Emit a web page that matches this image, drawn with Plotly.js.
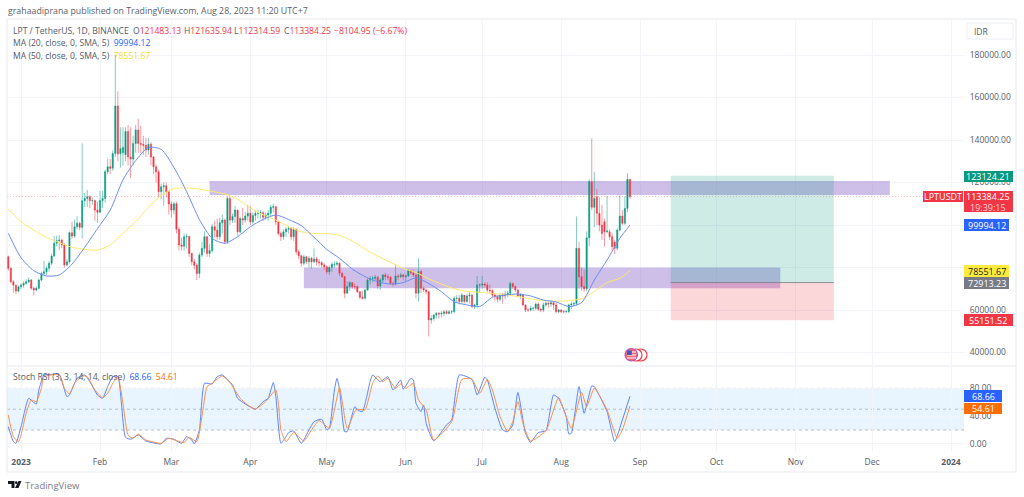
<!DOCTYPE html>
<html><head><meta charset="utf-8">
<script src="https://cdn.plot.ly/plotly-3.0.1.min.js"></script>
<style>html,body{margin:0;padding:0;background:#fff}#c{width:1024px;height:497px}</style>
</head><body><div id="c"></div>
<script>
// Daily OHLC, in thousands of IDR-scale units, starting 2022-12-27
const firstCandleDay = -5; // days from 2023-01-01
const openK = [
85.1,79.6,73.3,71.7,68.9,
70.9,71.7,72.5,73.3,74.1,70.2,69.4,70.2,74.1,77.2,78,79.6,82,85.4,91.4,92.6,92.9,90.6,81.2,82.7,96.4,94.8,99.2,100.8,98.9,111.4,112.5,113.3,111.4,111.5,107,
106,111.5,112.5,125,127.4,126.7,133.7,156,133.5,134,133,144,132,131,138.4,144.7,138.4,138,137.5,135.3,138,132,127.4,125,115.7,118,118.5,115.7,
109.9,107,110,98,90.6,90,94.5,94.6,86.6,82.7,81,77.2,85.9,89,94.5,86.6,88,99.2,97.5,94.5,101,102.3,92.1,112.5,102.3,104,107,96.8,103,102.3,104.2,
105.5,101.5,104.5,105.5,105.5,105.8,103.6,104.7,105.5,108.3,108.6,101.5,96,94.5,96.8,98,98.4,94.5,98,87.4,85.5,82,85,82.7,84.3,82.7,84,82.7,82.2,81.2,
80.3,78,80,81.5,81.5,82,77.3,75.7,67.9,71,72.9,71,71,68.6,66,65.5,69.4,74.1,74.9,74.9,75.4,71.3,74.1,76.5,75.7,75.4,72.5,72.2,76,75.7,76.5,
75.7,76,78.5,77.5,76.5,67.9,78.1,70.2,69.4,68.6,55.3,56,57.6,58.4,58.1,58.4,59.2,58.4,59.2,59.2,65.5,65.5,64,67,64,66.6,67,61.6,62.4,71.8,
71.8,72.2,71.8,69.4,69.1,67,66.3,65,67,66.6,67.5,67.9,72.5,71,69.4,66.6,67,62.4,60,60,60.8,60.8,62.8,60.3,60,62.4,63.2,62.8,63.4,62.4,59.2,
60,59.2,59.2,59.3,62.4,62.8,63,89,75.6,71,70,94,120.4,108.3,113.3,105.5,100,101.5,96.8,96.8,94.5,92,89,97.6,104.2,100.8,107.8,121.483];
const highK = [
85.6,80,74,72,71.5,
72.5,73.5,74.5,75.2,74.6,71,71.2,74.8,78,83.2,80.5,83,86.5,94.8,95,95.2,93.5,91.5,84,97,101.5,102.5,104.2,101.5,138.4,115,116.5,114,113,112,111,
116,116,126,131,131,135,180,163,146,146,146,147,146,142,147,150,146.6,142,141,141,139,132.5,128.5,126,119.5,120,120,116,
111,111,111,99,94,96,96,95,87,84,82,87,92,97,95,91,100.5,102,103,103.5,105,103,113.5,113,105.5,109,107,104,108,106,109.5,
109,106,107,107,107,106.5,106,107,109.5,110,109,102,97,98,99,99.5,99,99,98.5,88.5,86,86,85.5,85.5,85,89,85,84,83,82,
81,81,82.5,83,83,82.5,78,76,73.5,73.5,72.5,72.5,71.5,69,69,70,75,76,76,76.5,76,75,77,77.5,77,76,73.5,81.5,77,77.5,77,
77,79.5,79,79,77.5,84.3,79,71,70,69,57.5,58,59,59,59.5,60,60,60,60,66.5,67,67,68,66.5,67.5,68.5,67.5,63,76,72.5,
76,73,73,72,70,68,67,68,68,69,69,73.5,73,71.5,70,68,67.5,62.5,61,62,61.5,63.5,63.5,61,63.5,64,64,64.5,64,63.5,60.5,
60.5,60,60,63,64,64,104,92,80,79,97,121.5,140.8,125,117,113,109.5,103,113.6,98,96,93,98.5,114,107,113.5,124.3,121.636];
const lowK = [
78.5,72.5,68.1,67.5,68.3,
69.8,70.5,71.8,72.8,69.5,66.7,68.8,69.8,73.5,76,76.5,78,81,85,90,88.2,89,80,80.5,82,93.5,94,98,97.5,93.7,108.5,108.5,108,109.5,102,101,
107,108,110.5,124,124,125.5,132,130,127,128,130,128,122,128,134,134,134,133,132,133,128,124,120,113,112,109,113,105,
103.5,105,96,88,88,88,89,85,81,79,74.1,75,85,87,85,85,87,94,93,93,96,91,91,100,101,101,95,96,100,101,102,
100,100.5,102,103,103,102,102.5,102,104,106,100,95,92.5,93,94.5,96,93,92.5,86,84,80.5,81,81.5,80,79.5,82,81,80.5,80,79,
77,76.5,78,80,80.5,76,75,65.5,69,69,70,69.5,68,65,65,65,69,72,73,74,70,69.5,73,74,74,72,71,71.5,74,75,74,
73.5,75.5,76.5,75.5,65.5,64,68,68.5,67.5,47.5,53.5,55,56,56,56.5,57,58,58,58,58.5,63.5,62.5,63,63,63.5,63,61,60.5,61,68,
70,70.5,68.5,68,66,64.5,63.5,64,63,65,66,66.5,70,68.5,66,65,62,59,59,59.5,59.5,60,59.5,59,59,61.5,61,61.5,60,58.5,58.5,
58.5,58.5,58.5,58.5,60.5,61.5,62,70,69,68.5,69,90,107,99,100,97,93,89.8,96,93,88,86.3,88,97,99.8,100,106,112.315];
const closeK = [
79.6,73.3,71.7,68.9,70.9,
71.7,72.5,73.3,74.1,70.2,69.4,70.2,74.1,77.2,78,79.6,82,85.4,91.4,92.6,92.9,90.6,81.2,82.7,96.4,94.8,99.2,100.8,98.9,111.4,112.5,113.3,111.4,111.5,107,106,
111.5,112.5,125,127.4,126.7,133.7,156,133.5,136,136.5,144,132,131,138.4,144.7,138.4,138,137.5,135.3,138,132,127.4,125,115.7,118,118.5,115.7,109.9,
107,110,98,90.6,90,94.5,94.6,86.6,82.7,81,77.2,85.9,89,94.5,86.6,88,99.2,97.5,94.5,101,102.3,92.1,112.5,102.3,104,107,96.8,103,102.3,104.2,105.5,
101.5,104.5,105.5,105.5,105.8,103.6,104.7,105.5,108.3,108.6,101.5,96,94.5,96.8,98,98.4,94.5,98,87.4,85.5,82,85,82.7,84.3,82.7,84,82.7,82.2,81.2,80.3,
78,80,81.5,81.5,82,77.3,75.7,67.9,71,72.9,71,71,68.6,66,65.5,69.4,74.1,74.9,74.9,75.4,71.3,74.1,76.5,75.7,75.4,72.5,72.2,76,75.7,76.5,75.7,
76,78.5,77.5,76.5,67.9,78.1,70.2,69.4,68.6,55.3,56,57.6,58.4,58.1,58.4,59.2,58.4,59.2,59.2,65.5,65.5,64,67,64,66.6,67,61.6,62.4,71.8,71.8,
72.2,71.8,69.4,69.1,67,66.3,65,67,66.6,67.5,67.9,72.5,71,69.4,66.6,67,62.4,60,60,60.8,60.8,62.8,60.3,60,62.4,63.2,62.8,63.4,62.4,59.2,60,
59.2,59.2,59.3,62.4,62.8,63,89,75.6,71,70,94,120.4,108.3,112.5,105.5,100,96,96.8,97.2,94.5,89.8,89,97.6,104.2,100.8,107.8,121.483,113.384];

// Moving averages read at 5-day steps
const maDates = ['2022-12-27','2023-01-01','2023-01-06','2023-01-11','2023-01-16','2023-01-21','2023-01-26','2023-01-31','2023-02-05','2023-02-10','2023-02-15','2023-02-20','2023-02-25','2023-03-02','2023-03-07','2023-03-12','2023-03-17','2023-03-22','2023-03-27','2023-04-01','2023-04-06','2023-04-11','2023-04-16','2023-04-21','2023-04-26','2023-05-01','2023-05-06','2023-05-11','2023-05-16','2023-05-21','2023-05-26','2023-05-31','2023-06-05','2023-06-10','2023-06-15','2023-06-20','2023-06-25','2023-06-30','2023-07-05','2023-07-10','2023-07-15','2023-07-20','2023-07-25','2023-07-30','2023-08-04','2023-08-09','2023-08-14','2023-08-19','2023-08-24','2023-08-28'];
const ma20K = [96.1,84.6,78.5,76,76.5,81.6,89.5,98.3,107,121.2,130.3,136.5,135.6,127.1,115.7,102.6,93.7,91.4,94.5,99.2,102.6,104.7,102.6,99.7,94.2,88.5,84.3,79.3,75.7,73.3,72.2,72.9,75.1,72.5,68.6,63.9,62.4,61.6,66,67.1,67.5,66.6,64.7,63.8,61.6,63.5,74.1,83.5,93.7,99.994];
const ma50K = [107.5,101.6,97.6,94.2,91.7,89.5,88.5,88.2,90.6,96.1,101.6,108.3,113.9,117.1,117.4,116.9,115.8,114.6,112.1,108,104.8,102.3,99.2,96.8,96,96,95.1,92.5,88.6,85.4,82.4,79.6,77.6,74.7,72.2,70,68.8,68.3,67.8,67.2,66.3,65.2,64.4,64.2,64.4,65.3,68.6,72.9,74.9,78.552];

// Stoch RSI vertices: day offsets from 2023-01-01 and the values there
const stochKDays = [-5,-3,-2,0,3,5,6,7,9,11,15,18,19,22,25,27,30,32,34,36,38,41,43,46,49,55,57,60,63,65,67,68,70,72,75,77,79,83,85,88,92,95,97,99,100,102,104,105,107,110,113,115,118,120,121,123,124,125,127,128,131,132,134,137,138,141,144,146,149,150,153,154,155,157,158,159,162,167,169,172,177,179,182,183,186,189,191,193,195,198,200,203,206,209,211,214,215,216,219,221,224,225,230,233,236,239];
const stochK = [24.9,3.3,0.9,24.9,65.7,59.5,57.5,77.7,99.3,100,100,68.1,70.5,94.5,99.3,89.7,70.5,65.7,82.5,96.9,96.9,9.5,6.7,12.9,4.3,0,8.1,6.7,0.9,10.5,5.7,0,20.1,87.3,86.3,96.9,99.3,84.9,65.7,57.5,49.9,60.9,65.7,88.3,68.1,0.9,10.5,16.3,18.7,0.9,20.1,32.1,35.5,20.1,22.5,77.7,94.5,78.7,17.7,17.7,53.7,48.9,46.5,89.7,99.3,89.7,96.9,77.7,92.1,78.7,94.5,92.1,58.5,46.5,56.1,29.7,4.3,27.3,34.5,99.3,93,70.5,96,92.1,51.3,20.1,17.7,27.3,74.3,15.3,2.3,16.3,19.1,70.5,65.7,39.3,14.3,15.3,82.5,44.1,83.5,82.5,46.5,3.3,34.5,68.66];
const stochDDays = [-5,-3,-1,0,2,4,6,8,9,15,17,19,21,24,26,29,32,34,36,38,40,42,44,46,49,55,58,61,64,66,69,71,73,75,79,82,86,89,92,96,100,101,102,104,107,111,114,117,121,123,125,128,131,132,135,138,140,142,144,147,149,151,154,156,159,162,169,173,177,180,183,185,188,191,193,195,197,200,206,211,213,216,220,222,225,230,234,236,239];
const stochD = [41.7,10.5,3.3,12.9,44.1,63.3,60.9,80.1,96.9,99.3,80.1,71.9,87.3,97.9,96.9,77.7,66.7,72.9,87.3,96.9,58.5,12.9,8.1,14.3,5.7,0.9,8.1,4.7,1.9,9.5,3.3,39.3,82.5,87.3,97.9,88.3,65.7,56.1,50.3,60.9,77.7,58.5,20.1,3.3,16.3,4.3,20.1,33.5,22.5,48.9,81.1,22.5,46.5,49.9,48.9,87.3,97.9,89.7,94.5,80.1,86.3,80.1,87.3,63.3,48.9,5.7,32.1,93,93,72.9,93,77.7,39.3,17.7,32.1,60.9,29.7,4.3,19.1,67.1,48.9,22.5,74.3,53.7,80.1,48.9,8.1,20.1,54.61];

const monthTicks = ['2023-01-01','2023-02-01','2023-03-01','2023-04-01','2023-05-01','2023-06-01','2023-07-01','2023-08-01','2023-09-01','2023-10-01','2023-11-01','2023-12-01','2024-01-01'];
const monthLabels = ['<b>2023</b>','Feb','Mar','Apr','May','Jun','Jul','Aug','Sep','Oct','Nov','Dec','<b>2024</b>'];
const priceTicks = [40000,60000,80000,100000,120000,140000,160000,180000];
// 80000 and 100000 sit under the value tags, so the reference shows no label there
const priceLabels = ['40000.00','60000.00','','','120000.00','140000.00','160000.00','180000.00'];
const stochTicks = [0,40,80];

const dayToDate = d => new Date(Date.UTC(2023,0,1+d)).toISOString().slice(0,10);
const k = a => a.map(v => v*1000);
const candleDates = closeK.map((_,i) => dayToDate(firstCandleDay+i));

const GREEN='#089981', RED='#f23645', BLUE='#2962ff', ORANGE='#ff6d00', GREY='#787b86';
const FONT='"Open Sans","Noto Sans",sans-serif';
// geometry
const L=7,R=964,T=19,B=451,SEP=366;
const px=x=>(x-L)/(R-L), py=y=>(B-y)/(B-T);
const txt=(text,x,y,o={})=>Object.assign({text,x:px(x),y:py(y),xref:'paper',yref:'paper',xanchor:'left',yanchor:'middle',showarrow:false,align:'left',font:{family:FONT,size:8.6,color:'#555b68'}},o);
const box=(x0,y0,x1,y1,fill,line)=>({type:'rect',xref:'paper',yref:'paper',x0:px(x0),x1:px(x1),y0:py(y0),y1:py(y1),fillcolor:fill,line:{color:line||fill,width:line?1:0},layer:'above'});
const tag=(text,x0,y0,x1,y1,bg,color,sz)=>txt(text,(x0+x1)/2,(y0+y1)/2,{xanchor:'center',font:{family:FONT,size:sz||9,color:color||'#fff'}});
const P=v=>`<span style="color:${RED}">${v}</span>`;
const smooth={shape:'spline',smoothing:0.5};

const traces=[
 {type:'candlestick',x:candleDates,open:k(openK),high:k(highK),low:k(lowK),close:k(closeK),xaxis:'x',yaxis:'y',whiskerwidth:0,
  increasing:{line:{color:'rgba(8,153,129,0.5)',width:1},fillcolor:GREEN},
  decreasing:{line:{color:'rgba(242,54,69,0.5)',width:1},fillcolor:RED},showlegend:false,hoverinfo:'skip'},
 {type:'scatter',mode:'lines',x:maDates,y:k(ma50K),line:{color:'#ffe96b',width:1,shape:'spline',smoothing:0.7},xaxis:'x',yaxis:'y',showlegend:false,hoverinfo:'skip'},
 {type:'scatter',mode:'lines',x:maDates,y:k(ma20K),line:{color:'#6a8ff5',width:1,shape:'spline',smoothing:0.7},xaxis:'x',yaxis:'y',showlegend:false,hoverinfo:'skip'},
 {type:'scatter',mode:'lines',x:stochKDays.map(dayToDate),y:stochK,line:Object.assign({color:'#5c86f7',width:1},smooth),xaxis:'x',yaxis:'y2',showlegend:false,hoverinfo:'skip'},
 {type:'scatter',mode:'lines',x:stochDDays.map(dayToDate),y:stochD,line:Object.assign({color:'#f9914b',width:1},smooth),xaxis:'x',yaxis:'y2',showlegend:false,hoverinfo:'skip'}
];

const stripe=(y)=>({type:'line',xref:'paper',yref:'paper',x0:px(627),x1:px(636),y0:py(y),y1:py(y),line:{color:'#fff',width:1},layer:'above'});
const shapes=[
 // support/resistance zones and the position tool
 {type:'rect',xref:'x',yref:'y',x0:'2023-03-16',x1:'2023-12-08',y0:114100,y1:120700,fillcolor:'rgba(126,87,194,0.38)',line:{width:0},layer:'between'},
 {type:'rect',xref:'x',yref:'y',x0:'2023-04-22',x1:'2023-10-26',y0:70200,y1:80000,fillcolor:'rgba(126,87,194,0.38)',line:{width:0},layer:'between'},
 {type:'rect',xref:'x',yref:'y',x0:'2023-09-13',x1:'2023-11-16',y0:72913,y1:123124,fillcolor:'rgba(8,153,129,0.2)',line:{width:0},layer:'between'},
 {type:'rect',xref:'x',yref:'y',x0:'2023-09-13',x1:'2023-11-16',y0:55152,y1:72913,fillcolor:'rgba(242,54,69,0.2)',line:{width:0},layer:'between'},
 {type:'line',xref:'x',yref:'y',x0:'2023-09-13',x1:'2023-11-16',y0:72913,y1:72913,line:{color:'rgba(120,123,134,0.8)',width:1},layer:'between'},
 // last price line
 {type:'line',xref:'paper',yref:'y',x0:0,x1:1,y0:113384,y1:113384,line:{color:'rgba(242,54,69,0.35)',width:1,dash:'1px,2px'},layer:'between'},
 // stoch band
 {type:'rect',xref:'paper',yref:'y2',x0:0,x1:1,y0:20,y1:80,fillcolor:'rgba(33,150,243,0.1)',line:{width:0},layer:'between'},
 ...[20,50,80].map(v=>({type:'line',xref:'paper',yref:'y2',x0:0,x1:1,y0:v,y1:v,line:{color:'rgba(120,123,134,0.45)',width:1,dash:'3px,3px'},layer:'between'})),
 // frame and separator
 {type:'rect',xref:'paper',yref:'paper',x0:px(7),x1:px(1016),y0:py(19),y1:py(472),line:{color:'#e6e8ef',width:1},fillcolor:'rgba(0,0,0,0)',layer:'below'},
 {type:'line',xref:'paper',yref:'paper',x0:px(7),x1:px(1016),y0:py(366),y1:py(366),line:{color:'#e6e8ef',width:1},layer:'below'},
 // scale tags
 box(967,23,1013,39,'#ffffff','#eceef3'),
 box(964,171,1013,182,GREEN),
 box(923,191,963,202,RED),
 box(964,191,1013,212,RED),
 box(964,219,1009,231,BLUE),
 box(964,265,1009,277,'#ffeb3b'),
 box(964,277,1009,289,GREY),
 box(964,314,1013,326,RED),
 box(964,390,1002,402,BLUE),
 box(964,403,1002,414,ORANGE),
 // event bubbles
 {type:'circle',xref:'paper',yref:'paper',x0:px(634.5),x1:px(647),y0:py(361),y1:py(349),fillcolor:'#fff',line:{color:RED,width:1.2},layer:'above'},
 {type:'circle',xref:'paper',yref:'paper',x0:px(630),x1:px(642),y0:py(361),y1:py(349),fillcolor:'#fff',line:{color:RED,width:1.2},layer:'above'},
 {type:'circle',xref:'paper',yref:'paper',x0:px(625),x1:px(637.5),y0:py(361),y1:py(348.5),fillcolor:'#ef6b78',line:{color:'#b05ab5',width:1.2},layer:'above'},
 stripe(352),stripe(355),stripe(358),
 box(627,350.5,631.8,355,'#3c5bb8'),
 // TradingView mark
 {type:'path',xref:'paper',yref:'paper',path:`M ${px(8)} ${py(481)} L ${px(14.5)} ${py(481)} L ${px(14.5)} ${py(488)} L ${px(11.5)} ${py(488)} L ${px(11.5)} ${py(484)} L ${px(8)} ${py(484)} Z`,fillcolor:'#131722',line:{width:0},layer:'above'},
 {type:'path',xref:'paper',yref:'paper',path:`M ${px(18.5)} ${py(481)} L ${px(21.5)} ${py(481)} L ${px(18.5)} ${py(488)} L ${px(15)} ${py(488)} Z`,fillcolor:'#131722',line:{width:0},layer:'above'},
 {type:'circle',xref:'paper',yref:'paper',x0:px(15),x1:px(17.5),y0:py(484),y1:py(481.3),fillcolor:'#131722',line:{width:0},layer:'above'}
];

const annotations=[
 txt('grahaadiprana published on TradingView.com, Aug 28, 2023 11:20 UTC+7',6,11.5,{font:{family:FONT,size:8.8,color:'#5d606b'}}),
 txt('LPT / TetherUS, 1D, BINANCE',11,31),
 txt(`O${P('121483.13')}`,131,31),
 txt(`H${P('121635.94')}`,182,31),
 txt(`L${P('112314.59')}`,232,31),
 txt(`C${P('113384.25')}`,282,31),
 txt(P('−8104.95 (−6.67%)'),332,31),
 txt(`MA (20, close, 0, SMA, 5)  <span style="color:${BLUE}">99994.12</span>`,11,43.5),
 txt(`MA (50, close, 0, SMA, 5)  <span style="color:#f5e12f">78551.67</span>`,11,56),
 txt(`Stoch RSI (3, 3, 14, 14, close)  <span style="color:${BLUE}">68.66</span>  <span style="color:${ORANGE}">54.61</span>`,11,377),
 txt('IDR',972,31,{font:{family:FONT,size:8.5,color:'#555b68'}}),
 tag('123124.21',964,171,1013,182),
 tag('LPTUSDT',923,191,963,202),
 tag('113384.25',964,191,1013,202),
 tag('19:39:15',964,202,1013,212,'', '#ffd0d4'),
 tag('99994.12',964,219,1009,231),
 tag('78551.67',964,265,1009,277,'','#1b1b1b'),
 tag('72913.23',964,277,1009,289),
 tag('55151.52',964,314,1013,326),
 tag('68.66',964,390,1002,402),
 tag('54.61',964,403,1002,414),
 txt('TradingView',22.5,485,{font:{family:FONT,size:9.5,color:'#787b86'}})
];

const layout={
 width:1024,height:497,paper_bgcolor:'#fff',plot_bgcolor:'#fff',showlegend:false,
 margin:{l:L,r:1024-R,t:T,b:497-B,pad:0},
 font:{family:FONT,size:8.5,color:'#555b68'},
 xaxis:{type:'date',anchor:'y2',range:['2022-12-26 11:46','2024-01-06 02:24'],tickmode:'array',tickvals:monthTicks,ticktext:monthLabels,
   showgrid:true,gridcolor:'#f2f4f9',gridwidth:1,zeroline:false,showline:false,ticks:'outside',ticklen:3,tickcolor:'rgba(0,0,0,0)',
   tickfont:{family:FONT,size:8.5,color:'#555b68'},rangeslider:{visible:false},fixedrange:true},
 yaxis:{domain:[(B-SEP)/(B-T),1],anchor:'x',side:'right',range:[33647,196941],tickmode:'array',tickvals:priceTicks,ticktext:priceLabels,
   showgrid:true,gridcolor:'#f2f4f9',gridwidth:1,zeroline:false,showline:false,ticks:'outside',ticklen:3,tickcolor:'rgba(0,0,0,0)',
   tickfont:{family:FONT,size:8.5,color:'#555b68'},fixedrange:true},
 yaxis2:{domain:[0,(B-SEP)/(B-T)],anchor:'x',side:'right',range:[-10.2,112.2],tickmode:'array',tickvals:stochTicks,tickformat:'.2f',
   showgrid:true,gridcolor:'#f2f4f9',gridwidth:1,zeroline:false,showline:false,ticks:'outside',ticklen:3,tickcolor:'rgba(0,0,0,0)',
   tickfont:{family:FONT,size:8.5,color:'#555b68'},fixedrange:true},
 shapes,annotations
};
Plotly.newPlot('c',traces,layout,{displayModeBar:false,staticPlot:true});
</script></body></html>
